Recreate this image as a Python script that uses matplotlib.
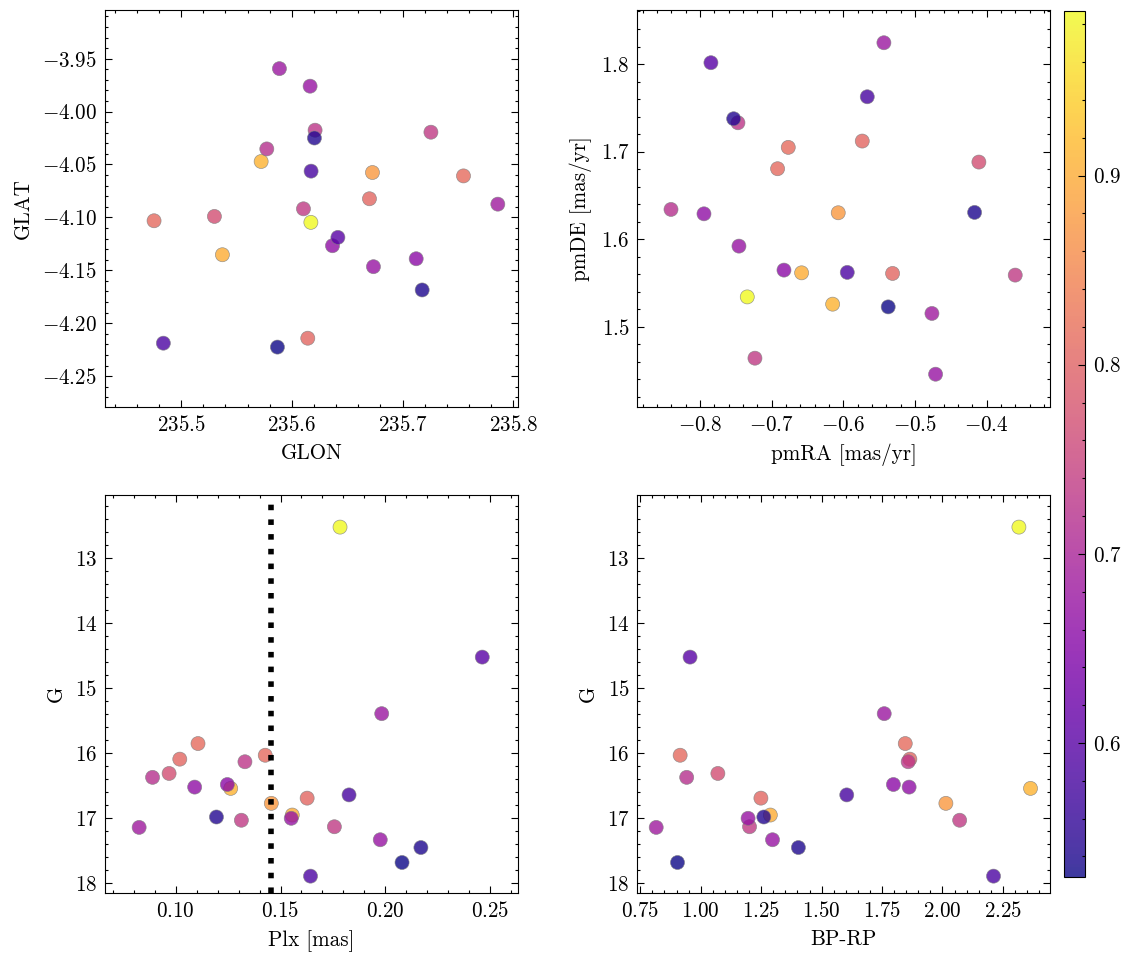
import numpy as np
import matplotlib
matplotlib.use("Agg")
import matplotlib.pyplot as plt
from matplotlib.ticker import AutoMinorLocator, ScalarFormatter, MultipleLocator

# ---- data (one entry per star) ----
glon = [235.6172, 235.6416, 235.5888, 235.7550, 235.6701, 235.4756, 235.6210, 235.5301,
        235.5774, 235.6367, 235.7123, 235.5723, 235.6174, 235.6144, 235.6728, 235.5373,
        235.6165, 235.6204, 235.7256, 235.7860, 235.6105, 235.6737, 235.7177, 235.5870,
        235.4840]
glat = [-4.1047, -4.1189, -3.9594, -4.0608, -4.0824, -4.1032, -4.0176, -4.0991,
        -4.0353, -4.1268, -4.1391, -4.0472, -4.0563, -4.2142, -4.0576, -4.1353,
        -3.9760, -4.0250, -4.0195, -4.0875, -4.0919, -4.1466, -4.1686, -4.2226,
        -4.2189]
pmra = [-0.7340, -0.7847, -0.5434, -0.6768, -0.5736, -0.6917, -0.7470, -0.4109,
        -0.8404, -0.7944, -0.6828, -0.6149, -0.5666, -0.5313, -0.6071, -0.6582,
        -0.7456, -0.7530, -0.3602, -0.4764, -0.7233, -0.4713, -0.4169, -0.5374,
        -0.5945]
pmde = [1.5340, 1.8015, 1.8243, 1.7048, 1.7120, 1.6804, 1.7329, 1.6880,
        1.6339, 1.6289, 1.5646, 1.5257, 1.7626, 1.5608, 1.6301, 1.5615,
        1.5920, 1.7375, 1.5589, 1.5151, 1.4640, 1.4457, 1.6305, 1.5226,
        1.5620]
plx = [0.1784, 0.2463, 0.1983, 0.1106, 0.1019, 0.1427, 0.1330, 0.0968,
       0.0889, 0.1090, 0.1246, 0.1262, 0.1827, 0.1627, 0.1456, 0.1556,
       0.1551, 0.1194, 0.1313, 0.0825, 0.1757, 0.1976, 0.2170, 0.2080,
       0.1643]
gmag = [12.52, 14.52, 15.39, 15.85, 16.09, 16.03, 16.13, 16.31,
        16.37, 16.52, 16.48, 16.54, 16.64, 16.69, 16.77, 16.95,
        17.00, 16.98, 17.03, 17.14, 17.13, 17.33, 17.45, 17.68,
        17.89]
bprp = [2.316, 0.956, 1.759, 1.846, 1.865, 0.915, 1.858, 1.071,
        0.942, 1.862, 1.797, 2.364, 1.604, 1.249, 2.014, 1.288,
        1.196, 1.261, 2.071, 0.816, 1.202, 1.297, 1.404, 0.904,
        2.211]
prob = [0.987, 0.600, 0.680, 0.815, 0.805, 0.810, 0.730, 0.770,
        0.720, 0.665, 0.660, 0.910, 0.580, 0.805, 0.875, 0.900,
        0.675, 0.545, 0.735, 0.685, 0.735, 0.675, 0.540, 0.529,
        0.585]
plx_ref = 0.1456

# ---- style ----
plt.rcParams.update({
    "font.family": "serif",
    "font.serif": ["cmr10"],
    "mathtext.fontset": "cm",
    "axes.formatter.use_mathtext": True,
    "font.size": 9.5,
    "axes.linewidth": 0.5,
    "xtick.direction": "in",
    "ytick.direction": "in",
    "xtick.top": True,
    "ytick.right": True,
    "xtick.major.size": 3,
    "ytick.major.size": 3,
    "xtick.minor.size": 1.5,
    "ytick.minor.size": 1.5,
    "xtick.major.width": 0.5,
    "ytick.major.width": 0.5,
    "xtick.minor.width": 0.5,
    "ytick.minor.width": 0.5,
    "xtick.minor.visible": True,
    "ytick.minor.visible": True,
})

order = np.argsort(-np.asarray(prob), kind="stable")
def arr(v):
    return np.asarray(v)[order]

fig = plt.figure(figsize=(1133 / 160, 960 / 160), dpi=160)
W, H = 1133.0, 960.0
def box(x0, y0, x1, y1):
    return [x0 / W, 1 - y1 / H, (x1 - x0) / W, (y1 - y0) / H]

ax1 = fig.add_axes(box(105, 10, 518.3, 407.3))
ax2 = fig.add_axes(box(637.3, 10, 1050, 407.3))
ax3 = fig.add_axes(box(105, 495, 518.3, 893.3))
ax4 = fig.add_axes(box(637.3, 495, 1050, 893.3))
cax = fig.add_axes(box(1064.3, 11, 1085, 877.3))

kw = dict(c=arr(prob), cmap="plasma", s=40, alpha=0.8,
          edgecolors="gray", linewidths=0.3)

sc = ax1.scatter(arr(glon), arr(glat), **kw)
ax1.set_xlabel("GLON")
ax1.set_ylabel("GLAT")
ax1.set_xlim(235.4313, 235.8045)
ax1.set_ylim(-4.2795, -3.904)
ax1.xaxis.set_major_locator(MultipleLocator(0.1))
ax1.yaxis.set_major_locator(MultipleLocator(0.05))

ax2.scatter(arr(pmra), arr(pmde), **kw)
ax2.set_xlabel("pmRA [mas/yr]")
ax2.set_ylabel("pmDE [mas/yr]")
ax2.set_xlim(-0.8874, -0.3117)
ax2.set_ylim(1.4079, 1.8617)
ax2.xaxis.set_major_locator(MultipleLocator(0.1))
ax2.yaxis.set_major_locator(MultipleLocator(0.1))

ax3.scatter(arr(plx), arr(gmag), **kw)
ax3.axvline(plx_ref, color="black", ls=":", lw=2.5)
ax3.set_xlabel("Plx [mas]")
ax3.set_ylabel("G")
ax3.set_xlim(0.0662, 0.2635)
ax3.set_ylim(18.154, 12.026)
ax3.xaxis.set_major_locator(MultipleLocator(0.05))
ax3.yaxis.set_major_locator(MultipleLocator(1))

ax4.scatter(arr(bprp), arr(gmag), **kw)
ax4.set_xlabel("BP-RP")
ax4.set_ylabel("G")
ax4.set_xlim(0.7378, 2.4446)
ax4.set_ylim(18.154, 12.026)
ax4.xaxis.set_major_locator(MultipleLocator(0.25))
ax4.yaxis.set_major_locator(MultipleLocator(1))

for ax in (ax1, ax2, ax3, ax4):
    fmt = ScalarFormatter(useOffset=False, useMathText=True)
    ax.xaxis.set_major_formatter(fmt)
    fmt2 = ScalarFormatter(useOffset=False, useMathText=True)
    ax.yaxis.set_major_formatter(fmt2)
    ax.xaxis.set_minor_locator(AutoMinorLocator())
    ax.yaxis.set_minor_locator(AutoMinorLocator())

cb = fig.colorbar(sc, cax=cax)
cb.outline.set_linewidth(0.5)
cb.ax.yaxis.set_minor_locator(AutoMinorLocator())
cb.ax.tick_params(which="both", direction="in")

fig.savefig("out.png", dpi=160)
